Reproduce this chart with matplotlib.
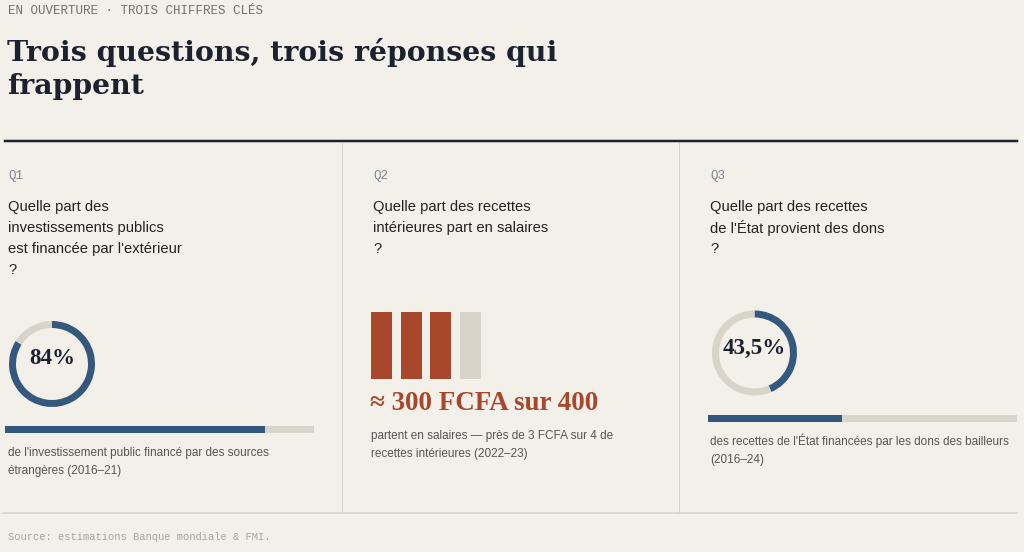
import matplotlib
matplotlib.use("Agg")
import matplotlib.pyplot as plt
from matplotlib.lines import Line2D

# --- data -------------------------------------------------------------
kicker = "EN OUVERTURE · TROIS CHIFFRES CLÉS"
title_lines = ["Trois questions, trois réponses qui", "frappent"]
q_labels = ["Q1", "Q2", "Q3"]
questions = [
    ["Quelle part des", "investissements publics", "est financée par l'extérieur", "?"],
    ["Quelle part des recettes", "intérieures part en salaires", "?"],
    ["Quelle part des recettes", "de l'État provient des dons", "?"],
]
share_external_invest = 84.0   # % of public investment financed from abroad
share_grants = 43.5            # % of state revenue from donor grants
wage_fcfa = 300                # FCFA going to wages...
revenue_fcfa = 400             # ...out of this much domestic revenue
block_fcfa = 100
donut_labels = ["84%", "43,5%"]
big_figure = "≈ 300 FCFA sur 400"
captions = [
    ["de l'investissement public financé par des sources", "étrangères (2016–21)"],
    ["partent en salaires — près de 3 FCFA sur 4 de", "recettes intérieures (2022–23)"],
    ["des recettes de l'État financées par les dons des bailleurs", "(2016–24)"],
]
source = "Source: estimations Banque mondiale & FMI."

# --- style ------------------------------------------------------------
BG = "#f3f0e9"
INK = "#1c2130"
BLUE = "#34587e"
RUST = "#a8472c"
TRACK = "#d9d4c9"
GREY = "#555555"
RULE = "#d8d2c6"
SERIF = ["Liberation Serif", "DejaVu Serif"]
WIDE_SERIF = ["DejaVu Serif"]
SANS = ["Liberation Sans", "DejaVu Sans"]
MONO = ["Liberation Mono", "DejaVu Sans Mono"]

W, H = 1024, 552
fig = plt.figure(figsize=(W / 100, H / 100), dpi=100, facecolor=BG)


def fx(x):
    return x / W


def fy(y):
    return 1 - y / H


def put(x, y, s, px, **kw):
    kw.setdefault("va", "center")
    fig.text(fx(x), fy(y), s, fontsize=px * 0.72, **kw)


def box(x0, y0, x1, y1):
    ax = fig.add_axes([fx(x0), fy(y1), (x1 - x0) / W, (y1 - y0) / H])
    ax.set_facecolor("none")
    ax.axis("off")
    return ax


def hline(x0, x1, y, lw, color):
    fig.add_artist(Line2D([fx(x0), fx(x1)], [fy(y), fy(y)], lw=lw * 0.72, color=color))


def vline(x, y0, y1, lw, color):
    fig.add_artist(Line2D([fx(x), fx(x)], [fy(y0), fy(y1)], lw=lw * 0.72, color=color))


def donut(cx, cy, r, value):
    ax = box(cx - r, cy - r, cx + r, cy + r)
    ax.pie([value, 100 - value], colors=[BLUE, TRACK], startangle=90,
           counterclock=False, wedgeprops=dict(width=7 / r, linewidth=0))
    ax.set_xlim(-1, 1)
    ax.set_ylim(-1, 1)


def progress(x0, x1, y, value):
    ax = box(x0, y - 3.5, x1, y + 3.5)
    ax.barh([0], [100], height=1, color=TRACK, linewidth=0)
    ax.barh([0], [value], height=1, color=BLUE, linewidth=0)
    ax.set_xlim(0, 100)
    ax.set_ylim(-0.5, 0.5)


# --- header -----------------------------------------------------------
put(8, 11, kicker, 12.5, family=MONO, color="#6f6f6f")
for i, line in enumerate(title_lines):
    put(7, 61 + 32.5 * i, line, 28.4, family=WIDE_SERIF, weight="bold", color=INK, va="baseline")

hline(5, 1017, 141, 2.5, INK)
vline(342, 143, 513, 1, RULE)
vline(679, 143, 513, 1, RULE)
hline(3, 1017, 513, 1.5, RULE)

# --- question texts ---------------------------------------------------
text_x = [8, 373, 710]
for qx, lab, lines in zip(text_x, q_labels, questions):
    put(qx, 176, lab, 12.5, family=MONO, color="#7d8790")
    for i, line in enumerate(lines):
        put(qx, 207 + 21 * i, line, 14.7, family=SANS, color="#222222")

# --- panel 1: donut + bar ---------------------------------------------
donut(52, 364, 43, share_external_invest)
put(52, 358, donut_labels[0], 23, family=SERIF, weight="bold", color=INK, ha="center")
progress(5, 314, 429, share_external_invest)
for i, line in enumerate(captions[0]):
    put(8, 453 + 18 * i, line, 11.8, family=SANS, color=GREY)

# --- panel 2: blocks --------------------------------------------------
n_blocks = revenue_fcfa // block_fcfa
ax = box(371, 312, 481, 379)
ax.bar(range(n_blocks), [1] * n_blocks, width=0.71, linewidth=0,
       color=[RUST if (i + 1) * block_fcfa <= wage_fcfa else TRACK for i in range(n_blocks)])
ax.set_xlim(-0.355, n_blocks - 1 + 0.355)
ax.set_ylim(0, 1)
put(370, 404, big_figure, 27, family=SERIF, weight="bold", color=RUST)
for i, line in enumerate(captions[1]):
    put(371, 436 + 18 * i, line, 11.8, family=SANS, color=GREY)

# --- panel 3: donut + bar ---------------------------------------------
donut(754.5, 353, 42.5, share_grants)
put(754, 348, donut_labels[1], 23, family=SERIF, weight="bold", color=INK, ha="center")
progress(708, 1017, 418, share_grants)
for i, line in enumerate(captions[2]):
    put(710, 441 + 19 * i, line, 11.8, family=SANS, color=GREY)

# --- footer -----------------------------------------------------------
put(8, 537, source, 10.5, family=MONO, color="#a9a59d")

fig.savefig("out.png", dpi=100, facecolor=BG)
